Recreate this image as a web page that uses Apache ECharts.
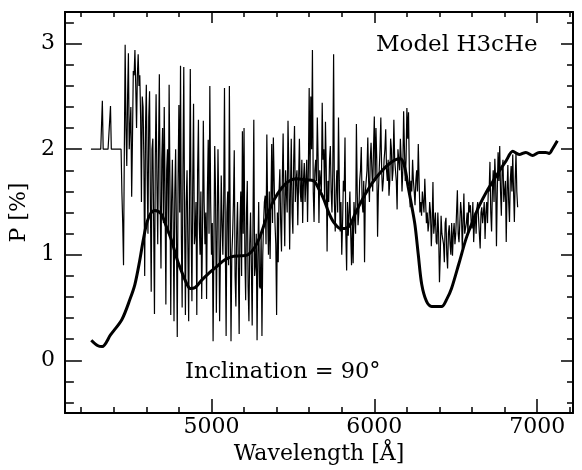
<!DOCTYPE html>
<html>
<head>
<meta charset="utf-8">
<script src="https://cdn.jsdelivr.net/npm/echarts@6/dist/echarts.min.js"></script>
<style>
html,body{margin:0;padding:0;background:#fff;}
#chart{width:582px;height:470px;}
</style>
</head>
<body>
<div id="chart"></div>
<script>
// ---- Data ----
// Observed polarization spectrum: values every 10 Å starting at 4260 Å
const obsStart = 4260;
const obsStep = 10;
const obsP = [
  2.0, 2.0, 2.0, 2.0, 2.0, 2.0, 2.0, 2.46, 2.0, 2.0,      // 4260-4350
  2.0, 2.0, 2.41, 2.0, 2.0, 2.0, 2.0, 2.0, 2.0, 1.59,     // 4360-4450
  0.9, 2.99, 1.84, 2.91, 2.0, 1.55, 2.74, 2.94, 2.2, 2.9, // 4460-4550
  2.7, 1.5, 2.4, 0.8, 2.61, 1.2, 2.55, 0.65, 2.1, 0.44,   // 4560-4650
  2.52, 1.1, 2.71, 0.87, 2.2, 2.4, 0.53, 2.0, 2.61, 0.43, // 4660-4750
  1.9, 0.37, 2.0, 0.22, 2.42, 2.79, 0.5, 2.78, 0.43, 1.8, // 4760-4850
  0.37, 2.76, 0.56, 2.43, 1.2, 0.43, 2.28, 1.0, 0.58, 2.27, // 4860-4950
  1.1, 0.58, 2.09, 2.6, 1.0, 0.18, 2.03, 0.45, 2.0, 0.37, // 4960-5050
  1.75, 1.0, 2.58, 0.23, 1.6, 2.6, 0.18, 1.2, 1.99, 0.51, // 5060-5150
  1.5, 0.25, 1.6, 2.17, 2.2, 0.57, 1.7, 0.37, 1.4, 0.33,  // 5160-5250
  2.28, 0.9, 0.19, 1.5, 0.68, 0.23, 1.3, 1.56, 2.14, 1.0, // 5260-5350
  0.96, 2.05, 2.11, 1.3, 0.43, 0.93, 1.81, 1.03, 2.15, 1.08, // 5360-5450
  1.6, 2.27, 1.05, 2.1, 1.2, 2.22, 1.7, 1.28, 2.1, 1.5,   // 5460-5550
  1.3, 1.87, 1.5, 1.31, 2.58, 2.5, 2.94, 1.31, 1.9, 2.3,  // 5560-5650
  1.3, 1.8, 2.44, 2.0, 2.26, 1.03, 1.5, 2.03, 1.4, 2.9,   // 5660-5750
  1.22, 1.8, 2.3, 1.22, 1.0, 1.7, 2.11, 0.85, 1.18, 1.6,  // 5760-5850
  0.9, 0.92, 1.5, 2.24, 1.28, 1.7, 2.02, 1.4, 0.93, 1.7,  // 5860-5950
  2.11, 1.5, 2.06, 1.6, 2.31, 2.2, 1.17, 1.8, 2.3, 1.6,   // 5960-6050
  1.9, 2.19, 1.7, 1.56, 2.1, 1.7, 2.28, 1.8, 1.43, 1.9,   // 6060-6150
  2.1, 1.6, 2.36, 1.7, 2.39, 2.35, 1.45, 1.6, 1.7, 1.47,  // 6160-6250
  1.8, 2.05, 1.4, 1.37, 1.6, 1.72, 1.3, 1.22, 1.5, 1.08,  // 6260-6350
  1.69, 1.3, 1.12, 1.4, 0.74, 1.37, 1.2, 0.93, 1.35, 0.87, // 6360-6450
  1.28, 1.0, 0.99, 1.3, 1.2, 1.61, 1.12, 1.5, 1.06, 1.58, // 6460-6550
  1.19, 1.4, 1.5, 1.47, 1.25, 1.12, 1.4, 1.44, 1.35, 1.06, // 6560-6650
  1.45, 1.3, 1.15, 1.5, 1.62, 1.88, 1.22, 1.8, 1.91, 1.08, // 6660-6750
  1.97, 2.03, 1.37, 1.9, 1.5, 1.12, 1.85, 1.31, 1.84, 1.95, // 6760-6850
  1.31, 1.97, 1.45                                          // 6860-6880
];
// Dense-band readings between the samples above (at 4265, 4275, ... Å)
const obsMid = [
  2.0, 2.0, 2.0, 2.0, 2.0, 2.0, 2.0, 2.0, 2.0, 2.0,       // 4265-4355
  2.0, 2.0, 2.0, 2.0, 2.0, 2.0, 2.0, 2.0, 2.0, 1.3,       // 4365-4455
  2.0, 2.2, 2.5, 2.0, 2.4, 2.1, 2.7, 2.6, 2.7, 2.6,       // 4465-4555
  2.3, 2.5, 1.9, 2.2, 1.8, 2.3, 1.5, 2.0, 1.3, 1.9,       // 4565-4655
  1.7, 2.0, 1.5, 1.9, 1.3, 1.6, 1.8, 1.2, 1.7, 1.5,       // 4665-4755
  1.3, 1.6, 1.2, 1.7, 1.4, 1.2, 1.8, 1.3, 1.5, 1.1,       // 4765-4855
  1.6, 1.3, 1.7, 1.1, 1.5, 1.8, 1.3, 1.6, 1.2, 1.5,       // 4865-4955
  1.4, 1.6, 1.2, 1.5, 1.3, 1.1, 1.6, 1.2, 1.4, 1.0,       // 4965-5055
  1.3, 1.5, 1.1, 1.4, 0.9, 1.3, 1.0, 1.5, 0.8, 1.2,       // 5065-5155
  0.9, 1.3, 0.8, 1.2, 1.0, 1.4, 0.7, 1.1, 0.9, 1.3,       // 5165-5255
  0.8, 1.2, 1.0, 0.7, 1.2, 1.0, 1.5, 1.1, 1.4, 1.6,       // 5265-5355
  1.5, 1.3, 1.7, 1.1, 1.4, 1.6, 1.3, 1.7, 1.5, 1.8,       // 5365-5455
  1.4, 1.8, 1.6, 1.4, 1.9, 1.5, 1.8, 1.7, 1.6, 1.9,       // 5465-5555
  1.7, 1.5, 1.9, 1.8, 1.7, 2.0, 1.6, 1.8, 1.7, 1.9,       // 5565-5655
  1.8, 1.6, 1.9, 1.5, 1.8, 1.7, 1.9, 1.6, 1.8, 1.5,       // 5665-5755
  1.6, 1.4, 1.7, 1.5, 1.3, 1.6, 1.2, 1.5, 1.4, 1.2,       // 5765-5855
  1.3, 1.5, 1.2, 1.6, 1.4, 1.8, 1.5, 1.7, 1.6, 1.8,       // 5865-5955
  1.7, 1.9, 1.8, 2.0, 1.7, 1.9, 1.6, 2.0, 1.8, 1.7,       // 5965-6055
  2.0, 1.8, 1.9, 1.7, 2.0, 1.8, 1.9, 1.7, 2.0, 1.8,       // 6065-6155
  1.9, 1.8, 2.0, 1.9, 2.1, 1.8, 1.7, 1.9, 1.6, 1.7,       // 6165-6255
  1.6, 1.7, 1.5, 1.6, 1.4, 1.5, 1.4, 1.3, 1.4, 1.3,       // 6265-6355
  1.2, 1.4, 1.1, 1.2, 1.0, 1.2, 1.1, 1.3, 1.0, 1.2,       // 6365-6455
  1.1, 1.3, 1.2, 1.1, 1.4, 1.2, 1.3, 1.4, 1.3, 1.2,       // 6465-6555
  1.3, 1.2, 1.4, 1.3, 1.5, 1.3, 1.2, 1.5, 1.2, 1.4,       // 6565-6655
  1.3, 1.5, 1.4, 1.3, 1.6, 1.4, 1.6, 1.5, 1.7, 1.6,       // 6665-6755
  1.7, 1.6, 1.8, 1.5, 1.7, 1.6, 1.5, 1.7, 1.6, 1.6, 1.7, 1.6 // 6765-6875
];

// Model curve (wavelength in Å, polarization in %)
const modelWave = [4262, 4300, 4329, 4380, 4451, 4500, 4530, 4560, 4580, 4604,
  4630, 4652, 4690, 4720, 4756, 4790, 4817, 4850, 4870, 4900,
  4940, 4980, 5041, 5080, 5122, 5180, 5224, 5262, 5300, 5340,
  5384, 5430, 5468, 5520, 5580, 5628, 5660, 5689, 5720, 5750,
  5790, 5820, 5850, 5880, 5925, 5970, 6006, 6050, 6090, 6128,
  6160, 6185, 6207, 6230, 6250, 6270, 6291, 6320, 6352, 6413,
  6445, 6474, 6520, 6565, 6610, 6646, 6690, 6726, 6770, 6809,
  6850, 6890, 6931, 6972, 7012, 7053, 7073, 7093, 7124];
const modelP = [0.19, 0.14, 0.13, 0.24, 0.39, 0.58, 0.72, 0.95, 1.13, 1.31,
  1.40, 1.42, 1.39, 1.28, 1.13, 0.95, 0.84, 0.72, 0.68, 0.69,
  0.76, 0.82, 0.90, 0.95, 0.98, 0.99, 1.00, 1.06, 1.18, 1.36,
  1.52, 1.63, 1.69, 1.72, 1.71, 1.70, 1.62, 1.53, 1.40, 1.31,
  1.25, 1.25, 1.28, 1.38, 1.52, 1.64, 1.72, 1.80, 1.86, 1.90,
  1.91, 1.84, 1.65, 1.46, 1.28, 1.00, 0.72, 0.56, 0.51, 0.51,
  0.58, 0.68, 0.92, 1.16, 1.34, 1.47, 1.60, 1.69, 1.80, 1.89,
  1.98, 1.95, 1.97, 1.94, 1.97, 1.97, 1.96, 2.00, 2.08];

// Tick values
const xMajor = [5000, 6000, 7000];
const xMinor = [4200, 4400, 4600, 4800, 5200, 5400, 5600, 5800, 6200, 6400, 6600, 6800, 7200];
const yMajor = [0, 1, 2, 3];
const yMinor = [-0.4, -0.2, 0.2, 0.4, 0.6, 0.8, 1.2, 1.4, 1.6, 1.8, 2.2, 2.4, 2.6, 2.8, 3.2];

const xMin = 4100, xMax = 7220, yMin = -0.5, yMax = 3.3;

// ---- Chart ----
const FONT = '"DejaVu Serif", "Liberation Serif", serif';
const black = '#000';

const obsData = [];
obsP.forEach((p, i) => {
  const w = obsStart + i * obsStep;
  obsData.push([w, p]);
  if (i < obsMid.length) obsData.push([w + obsStep / 2, obsMid[i]]);
});
const modelData = modelWave.map((w, i) => [w, modelP[i]]);

function xAxisDef(pos, ticks, len, showLine, labels) {
  return {
    type: 'value', min: xMin, max: xMax, position: pos,
    axisLine: { show: showLine, onZero: false, lineStyle: { color: black, width: 2 } },
    axisTick: { show: true, inside: true, length: len, customValues: ticks, lineStyle: { color: black, width: 1.5 } },
    axisLabel: labels ? { show: true, customValues: ticks, formatter: v => String(v), color: black, fontFamily: FONT, fontSize: 22, margin: 3 } : { show: false },
    splitLine: { show: false }
  };
}
function yAxisDef(pos, ticks, len, showLine, labels) {
  return {
    type: 'value', min: yMin, max: yMax, position: pos,
    axisLine: { show: showLine, onZero: false, lineStyle: { color: black, width: 2 } },
    axisTick: { show: true, inside: true, length: len, customValues: ticks, lineStyle: { color: black, width: 1.5 } },
    axisLabel: labels ? { show: true, customValues: ticks, formatter: v => String(v), color: black, fontFamily: FONT, fontSize: 22, margin: 10 } : { show: false },
    splitLine: { show: false }
  };
}

const xBottom = xAxisDef('bottom', xMajor, 14, true, true);
xBottom.name = 'Wavelength [Å]';
xBottom.nameLocation = 'middle';
xBottom.nameGap = 24;
xBottom.nameTextStyle = { color: black, fontFamily: FONT, fontSize: 22 };

const yLeft = yAxisDef('left', yMajor, 17, true, true);
yLeft.name = 'P [%]';
yLeft.nameLocation = 'middle';
yLeft.nameGap = 28;
yLeft.nameTextStyle = { color: black, fontFamily: FONT, fontSize: 22 };

const chart = echarts.init(document.getElementById('chart'), null, { renderer: 'canvas' });
chart.setOption({
  animation: false,
  backgroundColor: '#fff',
  grid: { left: 64, right: 9, top: 12, bottom: 55, containLabel: false },
  xAxis: [
    xBottom,
    xAxisDef('bottom', xMinor, 6, false, false),
    xAxisDef('top', xMajor, 11, true, false),
    xAxisDef('top', xMinor, 5, false, false)
  ],
  yAxis: [
    yLeft,
    yAxisDef('left', yMinor, 9, false, false),
    yAxisDef('right', yMajor, 12, true, false),
    yAxisDef('right', yMinor, 6, false, false)
  ],
  series: [
    {
      type: 'line', xAxisIndex: 0, yAxisIndex: 0, data: obsData,
      showSymbol: false, symbol: 'none',
      lineStyle: { color: black, width: 1.2 }, z: 2
    },
    {
      type: 'line', xAxisIndex: 0, yAxisIndex: 0, data: modelData,
      showSymbol: false, symbol: 'none', smooth: 0.3,
      lineStyle: { color: black, width: 3 }, z: 3
    }
  ],
  graphic: [
    { type: 'text', left: 376, top: 34, style: { text: 'Model H3cHe', fill: black, font: '23px "DejaVu Serif"' } },
    { type: 'text', left: 185, top: 361, style: { text: 'Inclination = 90°', fill: black, font: '22.5px "DejaVu Serif"' } }
  ]
});
</script>
</body>
</html>
